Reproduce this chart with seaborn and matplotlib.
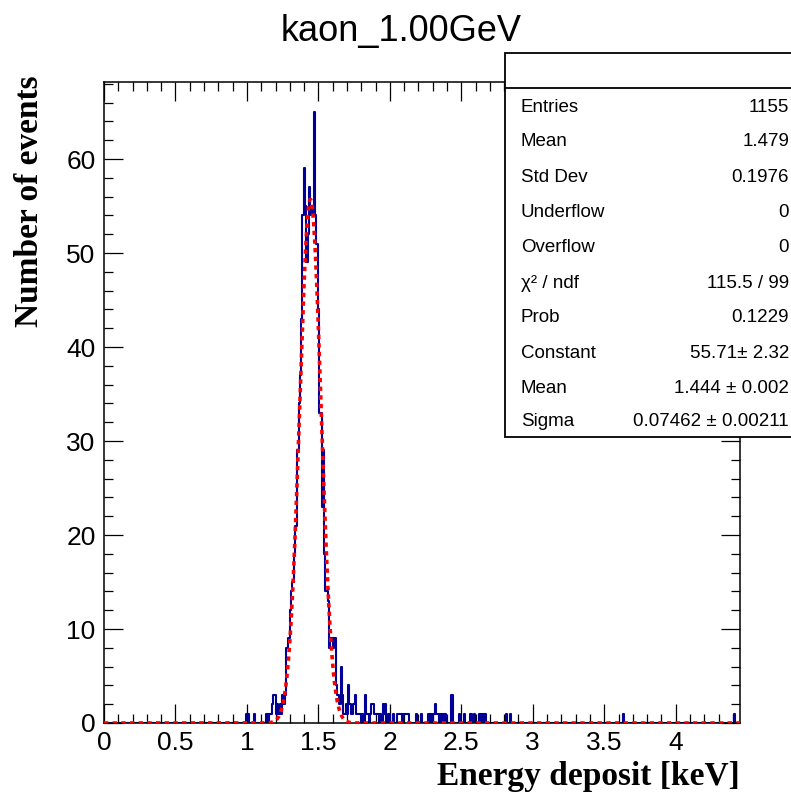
import numpy as np
import matplotlib
matplotlib.use("Agg")
import matplotlib.pyplot as plt
import seaborn as sns
from matplotlib.lines import Line2D
from matplotlib.patches import Rectangle
from matplotlib.ticker import MultipleLocator

# histogram binning (500 bins over the axis range)
N_BINS = 500
X_MAX = 4.45
BIN_W = X_MAX / N_BINS

# counts of the contiguous block of bins starting at bin index core_first_bin
core_first_bin = 110
core_counts = [
    0, 0, 1, 1, 0, 0, 0, 0, 1, 0,      # 110-119
    0, 0, 0, 0, 0, 0, 0, 1, 1, 0,      # 120-129
    1, 1, 2, 3, 3, 1, 2, 1, 2, 1,      # 130-139
    3, 2, 3, 8, 8, 9, 12, 14, 15, 18,  # 140-149
    21, 21, 29, 34, 37, 43, 54, 59, 55, 49,  # 150-159
    52, 57, 54, 55, 54, 65, 54, 51, 44, 33,  # 160-169
    33, 23, 29, 18, 14, 14, 13, 8, 9, 9,     # 170-179
    8, 9, 4, 3, 3, 2, 6, 3, 1, 1,      # 180-189
    2, 1, 4, 2, 1, 1, 2, 3, 1, 1,      # 190-199
    1, 1, 0, 1, 0, 3, 1, 1, 0, 1,      # 200-209
    2, 2, 1, 1, 1, 1, 0, 1, 0, 2,      # 210-219
    1, 2, 0, 1, 1, 0, 0, 1, 0, 0,      # 220-229
    1, 1, 1, 1, 0, 1, 1, 1, 1, 1,      # 230-239
]

# isolated entries further out in the tail
tail_bins = [245, 249, 255, 257, 259, 260, 261, 262, 264, 266, 268, 273,
             279, 283, 288, 291, 295, 297, 299, 316, 319, 408, 495]
tail_counts = [1, 1, 1, 1, 1, 2, 1, 1, 1, 1, 1, 3,
               1, 1, 1, 1, 1, 1, 1, 1, 1, 1, 1]

# gaussian fit parameters
fit_constant = 55.71
fit_mean = 1.444
fit_sigma = 0.07462

stat_labels = ["Entries", "Mean", "Std Dev", "Underflow", "Overflow",
               "\u03c7\u00b2 / ndf", "Prob", "Constant", "Mean", "Sigma"]
stat_values = ["1155", "1.479", "0.1976", "0", "0", "115.5 / 99", "0.1229",
               "55.71\u00b1 2.32", "1.444 \u00b1 0.002", "0.07462 \u00b1 0.00211"]
stat_rows_px = [107, 142, 177.5, 212.5, 248, 283, 318, 353.5, 388.5, 421]

W, H = 791, 797


def main() -> None:
    sns.set_style("ticks")
    plt.rcParams["font.family"] = ["Liberation Sans", "DejaVu Sans"]
    plt.rcParams["text.color"] = "black"
    plt.rcParams["xtick.color"] = "black"
    plt.rcParams["ytick.color"] = "black"
    plt.rcParams["axes.edgecolor"] = "black"

    bins = np.arange(core_first_bin, core_first_bin + len(core_counts))
    bins = np.concatenate([bins, np.array(tail_bins)])
    weights = np.concatenate([np.array(core_counts), np.array(tail_counts)])
    centers = (bins + 0.5) * BIN_W

    fig = plt.figure(figsize=(W / 100, H / 100), dpi=100)
    ax = fig.add_axes([104 / W, (H - 723) / H, (740 - 104) / W, (723 - 81.5) / H])

    sns.histplot(x=centers, weights=weights, bins=N_BINS, binrange=(0, X_MAX),
                 element="step", fill=False, color="#000099", linewidth=1.5, ax=ax)

    xs = np.linspace(0, X_MAX, 3000)
    ys = fit_constant * np.exp(-0.5 * ((xs - fit_mean) / fit_sigma) ** 2)
    ax.plot(xs, ys, color="#ff0000", linewidth=2.6, linestyle=(0, (1.2, 1.2)), zorder=5)

    ax.set_xlim(0, X_MAX)
    ax.set_ylim(0, 68.25)
    ax.xaxis.set_major_locator(MultipleLocator(0.5))
    ax.xaxis.set_minor_locator(MultipleLocator(0.1))
    ax.yaxis.set_major_locator(MultipleLocator(10))
    ax.yaxis.set_minor_locator(MultipleLocator(2))
    ax.set_xticks(np.arange(0, 4.01, 0.5))
    ax.set_xticklabels(["0", "0.5", "1", "1.5", "2", "2.5", "3", "3.5", "4"])
    ax.tick_params(which="both", direction="in", top=True, right=True, width=0.9,
                   labelsize=19, colors="black")
    ax.tick_params(which="major", length=13.7, pad=6)
    ax.tick_params(which="minor", length=6.8)
    for sp in ax.spines.values():
        sp.set_linewidth(1.1)
        sp.set_color("black")
    ax.set_xlabel("")
    ax.set_ylabel("")

    fig.text(401 / W, (H - 31) / H, "kaon_1.00GeV", ha="center", va="center", fontsize=26)
    fig.text(740 / W, (H - 777) / H, "Energy deposit [keV]", ha="right", va="center",
             fontsize=24, fontweight="bold", family="Liberation Serif")
    fig.text(30 / W, (H - 75) / H, "Number of events", ha="center", va="top", rotation=90,
             fontsize=24, fontweight="bold", family="Liberation Serif")

    # stats box
    box = fig.add_axes([505 / W, (H - 437) / H, (W + 20 - 505) / W, (437 - 53) / H])
    box.set_axis_off()
    box.add_patch(Rectangle((0, 0), 1, 1, transform=box.transAxes, facecolor="white",
                            edgecolor="black", linewidth=1.3, clip_on=False))
    fig.add_artist(Line2D([505 / W, 1], [(H - 88) / H] * 2, color="black", linewidth=1.3))
    for lab, val, y in zip(stat_labels, stat_values, stat_rows_px):
        fig.text(521 / W, (H - y) / H, lab, ha="left", va="center", fontsize=13.5)
        fig.text(789 / W, (H - y) / H, val, ha="right", va="center", fontsize=13.5)

    fig.savefig("out.png", dpi=100)
    plt.close(fig)


if __name__ == "__main__":
    main()
